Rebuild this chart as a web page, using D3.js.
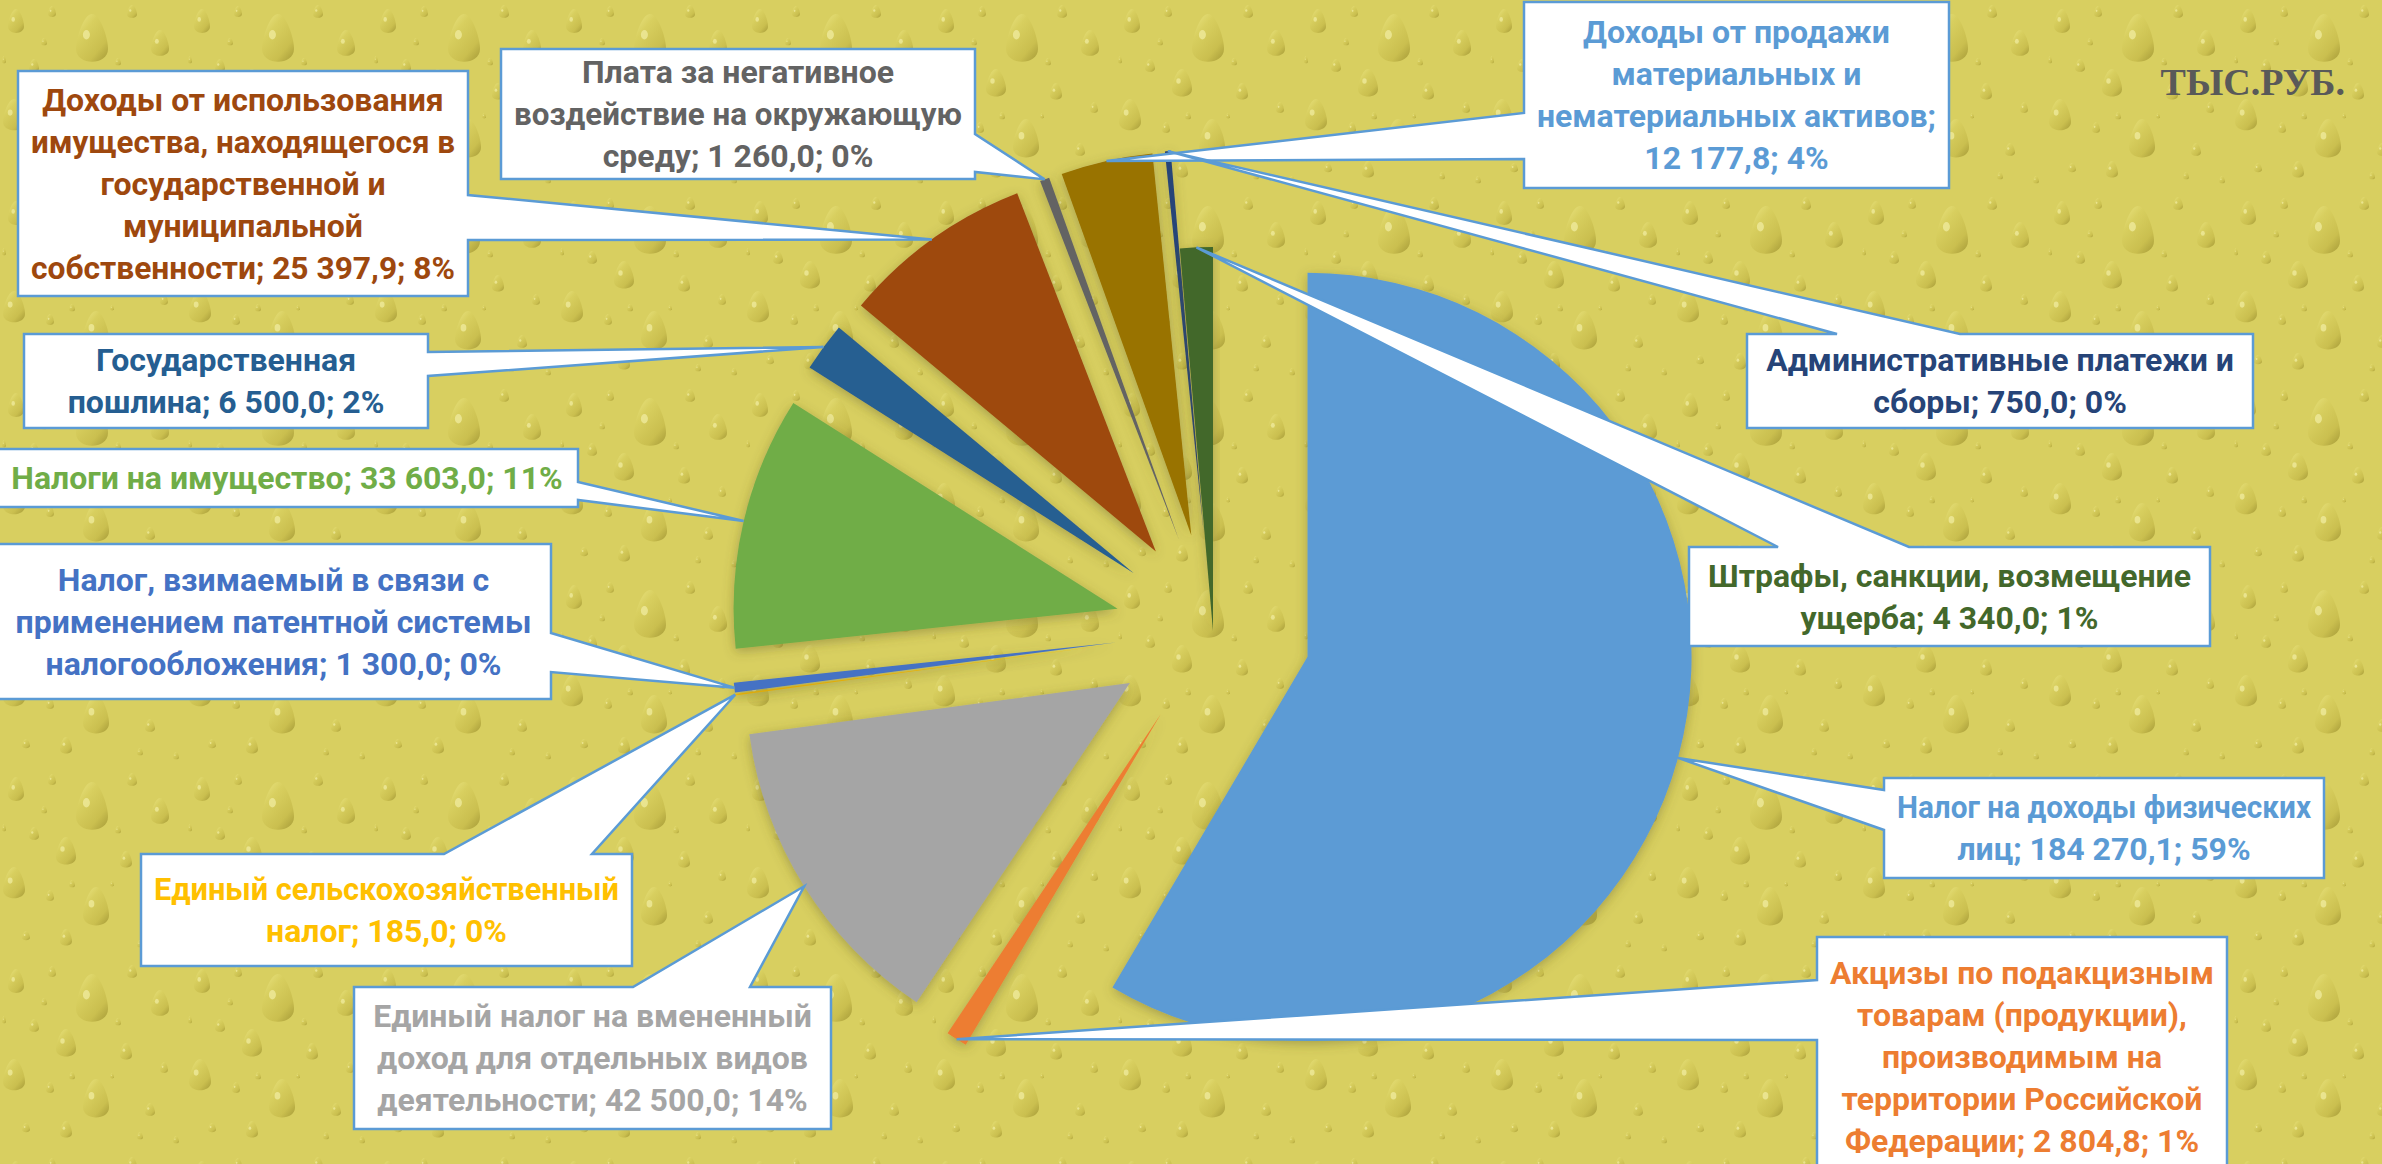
<!DOCTYPE html>
<html>
<head>
<meta charset="utf-8">
<script src="https://cdn.jsdelivr.net/npm/d3@7"></script>
<style>
  body { margin: 0; overflow: hidden; background: #d8cf60; }
  text { font-family: "Liberation Sans Narrow", "Arial Narrow", "Roboto", sans-serif; font-weight: bold; }
</style>
</head>
<body>
<script>
var W = 2382, H = 1164

// data
var categories = [
    'Налог на доходы физических лиц',
    'Акцизы по подакцизным товарам (продукции), производимым на территории Российской Федерации',
    'Единый налог на вмененный доход для отдельных видов деятельности',
    'Единый сельскохозяйственный налог',
    'Налог, взимаемый в связи с применением патентной системы налогообложения',
    'Налоги на имущество',
    'Государственная пошлина',
    'Доходы от использования имущества, находящегося в государственной и муниципальной собственности',
    'Плата за негативное воздействие на окружающую среду',
    'Доходы от продажи материальных и нематериальных активов',
    'Административные платежи и сборы',
    'Штрафы, санкции, возмещение ущерба'
]
var values = [184270.1, 2804.8, 42500.0, 185.0, 1300.0, 33603.0, 6500.0, 25397.9, 1260.0, 12177.8, 750.0, 4340.0]
var percents = ['59%', '1%', '14%', '0%', '0%', '11%', '2%', '8%', '0%', '4%', '0%', '1%']
var unitLabel = 'ТЫС.РУБ.'

// styles
var sliceColors = ['#5B9BD5', '#ED7D31', '#A5A5A5', '#FFC000', '#4472C4', '#70AD47',
    '#255E91', '#9E480E', '#636363', '#997300', '#264478', '#43682B']
var textColors = ['#5B9BD5', '#ED7D31', '#A5A5A5', '#FFC000', '#4472C4', '#70AD47',
    '#255E91', '#9E480E', '#636363', '#5B9BD5', '#264478', '#43682B']
// how far each slice is pulled out of the centre
var explode = [98, 98, 98, 98, 98, 98, 98, 98, 98, 98, 98, 0]
// words per line in each callout
var lineWords = [[4, 3], [3, 2, 2, 2, 3], [4, 4, 3], [2, 3], [5, 3, 3], [5], [1, 3],
    [3, 3, 2, 1, 3], [3, 3, 3], [3, 2, 2, 2], [3, 3], [3, 3]]
// callout boxes: x, y, w, h, side of pointer, pointer base from, to
var boxes = [
    [1884, 778, 440, 100, 'left', 790, 830],
    [1817, 937, 410, 240, 'left', 980, 1040],
    [354, 987, 477, 142, 'top', 633, 750],
    [141, 854, 491, 112, 'top', 444, 592],
    [-4, 544, 555, 155, 'right', 633, 672],
    [-4, 449, 582, 58, 'right', 482, 500],
    [24, 334, 404, 94, 'right', 352, 376],
    [18, 71, 450, 225, 'right', 195, 240],
    [501, 49, 474, 130, 'right', 134, 172],
    [1524, 2, 425, 186, 'left', 113, 159],
    [1747, 334, 506, 94, 'top', 1837, 1960],
    [1689, 547, 521, 99, 'top', 1778, 1909]
]

var center = { x: 1213, y: 631 }
var radius = 384
var fontSize = 32, lineH = 42

var ru = d3.formatLocale({ decimal: ',', thousands: '\u00a0', grouping: [3], currency: ['', ''] })
var fmt = ru.format(',.1f')

var svg = d3.select('body').append('svg')
    .attr('width', W)
    .attr('height', H)

var defs = svg.append('defs')

// water-drop texture for the background
var grad = defs.append('linearGradient').attr('id', 'drop')
    .attr('x1', 0).attr('y1', 0).attr('x2', 0.8).attr('y2', 1)
grad.append('stop').attr('offset', '0%').attr('stop-color', '#ebe583')
grad.append('stop').attr('offset', '35%').attr('stop-color', '#d8cf5f')
grad.append('stop').attr('offset', '80%').attr('stop-color', '#cabf4f')
grad.append('stop').attr('offset', '100%').attr('stop-color', '#b1a63f')

// teardrops in one tile: x, y, rx, ry
var drops = [[16, 22, 8, 13], [52, 12, 4, 6], [92, 40, 16, 26], [132, 12, 5, 7], [160, 44, 9, 14],
    [34, 66, 5, 7], [66, 84, 10, 15], [126, 92, 6, 9], [14, 116, 11, 17], [50, 128, 4, 6],
    [96, 140, 13, 21], [150, 150, 5, 7], [26, 168, 4, 5], [118, 62, 3, 4], [44, 42, 3, 4],
    [72, 116, 3, 4], [4, 60, 2, 4], [164, 108, 4, 6], [140, 176, 3, 4], [66, 170, 6, 9],
    [176, 180, 3, 4], [112, 116, 2, 3]]

var pat = defs.append('pattern').attr('id', 'bg')
    .attr('patternUnits', 'userSpaceOnUse')
    .attr('width', 186).attr('height', 192)
pat.append('rect').attr('width', 186).attr('height', 192).attr('fill', '#d8cf60')
drops.forEach(function (p) {
    pat.append('path')
        .attr('d', drop(p))
        .attr('fill', 'url(#drop)')
    pat.append('ellipse')
        .attr('cx', p[0] - p[2] * 0.35).attr('cy', p[1] - p[3] * 0.2)
        .attr('rx', p[2] * 0.22).attr('ry', p[3] * 0.18)
        .attr('fill', '#f3eea4').attr('opacity', 0.7)
})

var shadow = defs.append('filter').attr('id', 'shadow')
    .attr('x', '-20%').attr('y', '-20%').attr('width', '140%').attr('height', '140%')
shadow.append('feDropShadow')
    .attr('dx', 0).attr('dy', 3).attr('stdDeviation', 6)
    .attr('flood-color', '#5a5220').attr('flood-opacity', 0.4)

svg.append('rect').attr('width', W).attr('height', H).attr('fill', 'url(#bg)')

// pie
var pie = d3.pie().sort(null).value(function (d) { return d })
var arcs = pie(values)
var arc = d3.arc().innerRadius(0).outerRadius(radius)

function dir(a) {
    var m = (a.startAngle + a.endAngle) / 2
    return { x: Math.sin(m), y: -Math.cos(m) }
}

svg.append('g')
    .attr('transform', m(center))
    .selectAll('path')
    .data(arcs)
    .enter()
    .append('path')
    .attr('transform', function (d, i) {
        var v = dir(d)
        return m({ x: v.x * explode[i], y: v.y * explode[i] })
    })
    .attr('d', arc)
    .attr('fill', function (d, i) { return sliceColors[i] })
    .attr('filter', 'url(#shadow)')

// callouts
var labels = svg.append('g')

arcs.forEach(function (d, i) {
    var v = dir(d)
    var tip = {
        x: center.x + v.x * (explode[i] + radius),
        y: center.y + v.y * (explode[i] + radius)
    }
    var b = boxes[i]

    labels.append('path')
        .attr('d', callout(b, tip))
        .attr('fill', '#fff')
        .attr('stroke', '#5B9BD5')
        .attr('stroke-width', 2.5)
        .attr('stroke-linejoin', 'miter')

    var words = (categories[i] + '; ' + fmt(values[i]) + '; ' + percents[i]).split(' ')
    var lines = [], k = 0
    lineWords[i].forEach(function (n) {
        lines.push(words.slice(k, k + n).join(' '))
        k += n
    })

    var cx = b[0] + b[2] / 2
    var cy = b[1] + b[3] / 2
    var maxW = Math.min(b[2], W - b[0]) - 26
    var t = labels.append('text')
        .attr('text-anchor', 'middle')
        .attr('font-size', fontSize)
        .attr('fill', textColors[i])
    lines.forEach(function (s, j) {
        var ts = t.append('tspan')
            .attr('x', cx)
            .attr('y', cy + (j - (lines.length - 1) / 2) * lineH + fontSize * 0.35)
            .text(s)
        if (ts.node().getComputedTextLength() > maxW) {
            ts.attr('textLength', maxW).attr('lengthAdjust', 'spacingAndGlyphs')
        }
    })
})

svg.append('text')
    .attr('x', 2345)
    .attr('y', 95)
    .attr('text-anchor', 'end')
    .attr('font-size', 38)
    .style('font-family', '"Liberation Serif", "Times New Roman", serif')
    .attr('fill', '#595959')
    .text(unitLabel)

// a teardrop, rounded at the bottom and narrower at the top
function drop(p) {
    var x = p[0], y = p[1], rx = p[2], ry = p[3]
    return 'M' + x + ',' + (y - ry) +
        'C' + (x + rx * 0.5) + ',' + (y - ry) + ' ' + (x + rx) + ',' + (y - ry * 0.1) + ' ' + (x + rx) + ',' + (y + ry * 0.35) +
        'C' + (x + rx) + ',' + (y + ry) + ' ' + (x - rx) + ',' + (y + ry) + ' ' + (x - rx) + ',' + (y + ry * 0.35) +
        'C' + (x - rx) + ',' + (y - ry * 0.1) + ' ' + (x - rx * 0.5) + ',' + (y - ry) + ' ' + x + ',' + (y - ry) + 'Z'
}

function callout(b, tip) {
    var x = b[0], y = b[1], w = b[2], h = b[3], p1 = b[5], p2 = b[6]
    var pts
    if (b[4] == 'left') {
        pts = [[x, y], [x + w, y], [x + w, y + h], [x, y + h], [x, p2], [tip.x, tip.y], [x, p1]]
    } else if (b[4] == 'right') {
        pts = [[x, y], [x + w, y], [x + w, p1], [tip.x, tip.y], [x + w, p2], [x + w, y + h], [x, y + h]]
    } else {
        pts = [[x, y], [p1, y], [tip.x, tip.y], [p2, y], [x + w, y], [x + w, y + h], [x, y + h]]
    }
    return 'M' + pts.map(function (p) { return p.join(',') }).join('L') + 'Z'
}

function m(offset) {
    return `translate(${offset.x},${offset.y})`
}
</script>
</body>
</html>
